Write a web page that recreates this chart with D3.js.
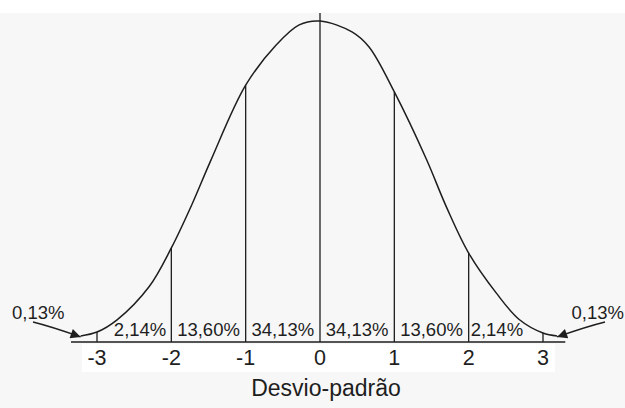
<!DOCTYPE html>
<html>
<head>
<meta charset="utf-8">
<script src="https://cdn.jsdelivr.net/npm/d3@7"></script>
<style>
  html, body { margin: 0; padding: 0; background: #fff; }
  svg { display: block; font-family: "Liberation Sans", Arial, sans-serif; }
</style>
</head>
<body>
<svg id="chart" width="625" height="408"></svg>
<script>
// desvios-padrão marcados no eixo
const sigmaTicks = [-3, -2, -1, 0, 1, 2, 3];
const tickLabels = ['-3', '-2', '-1', '0', '1', '2', '3'];

// percentagem em cada faixa entre dois desvios
const bandLabels = ['2,14%', '13,60%', '34,13%', '34,13%', '13,60%', '2,14%'];
const tailLabel = '0,13%';
const axisTitle = 'Desvio-padrão';

// contorno da curva (z em desvios, altura relativa ao pico)
const curveZ = [-3.22, -3.0, -2.73, -2.3, -2.0, -1.72, -1.47, -1.0, -0.59, -0.28, 0,
  0.43, 0.66, 1.0, 1.43, 1.7, 2.0, 2.37, 2.68, 3.0, 3.19];
const curveH = [0.019, 0.031, 0.069, 0.172, 0.293, 0.43, 0.565, 0.8, 0.925, 0.988, 1.0,
  0.966, 0.919, 0.779, 0.57, 0.421, 0.277, 0.153, 0.07, 0.028, 0.019];

const svg = d3.select('#chart');
const W = 625, H = 408;

const x = d3.scaleLinear().domain([-3, 3]).range([97, 543]);
const y = d3.scaleLinear().domain([0, 1]).range([342, 21]);

const ink = '#1e1e1e';

// fundo de papel digitalizado
svg.append('rect').attr('width', W).attr('height', H).attr('fill', '#f7f7f7');
svg.append('rect').attr('width', W).attr('height', 13).attr('fill', '#fff');
svg.append('rect').attr('x', 82).attr('y', 344).attr('width', 473).attr('height', 28).attr('fill', '#fff');

const defs = svg.append('defs');
defs.append('marker')
    .attr('id', 'arrowHead')
    .attr('viewBox', '0 0 10 10')
    .attr('refX', 10)
    .attr('refY', 5)
    .attr('markerWidth', 15)
    .attr('markerHeight', 10)
    .attr('markerUnits', 'userSpaceOnUse')
    .attr('orient', 'auto')
    .append('path')
    .attr('d', 'M0,0 L10,5 L0,10 Z')
    .attr('fill', ink);

const points = curveZ.map((z, i) => ({ z, h: curveH[i] }));
const heightAt = z => points.find(p => p.z === z).h;

// linha de base
svg.append('line')
    .attr('x1', x(-3.35)).attr('x2', x(3.3))
    .attr('y1', y(0)).attr('y2', y(0))
    .attr('stroke', ink)
    .attr('stroke-width', 1.6);

// verticais em cada desvio, até a curva (a central passa do pico)
svg.append('g')
    .selectAll('line')
    .data(sigmaTicks)
    .join('line')
    .attr('x1', d => x(d)).attr('x2', d => x(d))
    .attr('y1', y(0))
    .attr('y2', d => d === 0 ? y(heightAt(d)) - 8 : y(heightAt(d)))
    .attr('stroke', ink)
    .attr('stroke-width', 1.3);

// curva normal
const line = d3.line()
    .x(d => x(d.z))
    .y(d => y(d.h))
    .curve(d3.curveCatmullRom.alpha(0.5));

svg.append('path')
    .datum(points)
    .attr('d', line)
    .attr('fill', 'none')
    .attr('stroke', ink)
    .attr('stroke-width', 1.5);

// percentagens dentro das faixas
const bandFont = 18.5;
svg.append('g')
    .selectAll('text')
    .data(bandLabels)
    .join('text')
    .attr('x', (d, i) => {
        if (i === 0) return x(sigmaTicks[1]) - 5;
        if (i === bandLabels.length - 1) return x(sigmaTicks[5]) + 2;
        return (x(sigmaTicks[i]) + x(sigmaTicks[i + 1])) / 2;
    })
    .attr('y', y(0) - 6)
    .attr('text-anchor', (d, i) => i === 0 ? 'end' : i === bandLabels.length - 1 ? 'start' : 'middle')
    .attr('font-size', bandFont)
    .attr('fill', ink)
    .text(d => d);

// rótulos dos desvios
svg.append('g')
    .selectAll('text')
    .data(sigmaTicks)
    .join('text')
    .attr('x', d => x(d))
    .attr('y', 365)
    .attr('text-anchor', 'middle')
    .attr('font-size', 21.5)
    .attr('fill', ink)
    .text((d, i) => tickLabels[i]);

// caudas: 0,13% com setas apontando para as pontas da curva
const first = points[0];
const last = points[points.length - 1];
const tails = [
    { side: -1, tip: [x(first.z), y(first.h) + 1], tail: [33, 322], text: [12, 319], anchor: 'start' },
    { side: 1, tip: [x(last.z), y(last.h) + 1], tail: [605, 322], text: [624, 319], anchor: 'end' }
];

tails.forEach(t => {
    const cx = (t.tail[0] + t.tip[0]) / 2 + t.side * 6;
    const cy = (t.tail[1] + t.tip[1]) / 2 - 3;
    svg.append('path')
        .attr('d', `M${t.tail[0]},${t.tail[1]} Q${cx},${cy} ${t.tip[0]},${t.tip[1]}`)
        .attr('fill', 'none')
        .attr('stroke', ink)
        .attr('stroke-width', 1.4)
        .attr('marker-end', 'url(#arrowHead)');

    svg.append('text')
        .attr('x', t.text[0])
        .attr('y', t.text[1])
        .attr('text-anchor', t.anchor)
        .attr('font-size', bandFont)
        .attr('fill', ink)
        .text(tailLabel);
});

// título do eixo
svg.append('text')
    .attr('x', 326)
    .attr('y', 396)
    .attr('text-anchor', 'middle')
    .attr('font-size', 23)
    .attr('fill', ink)
    .text(axisTitle);
</script>
</body>
</html>
